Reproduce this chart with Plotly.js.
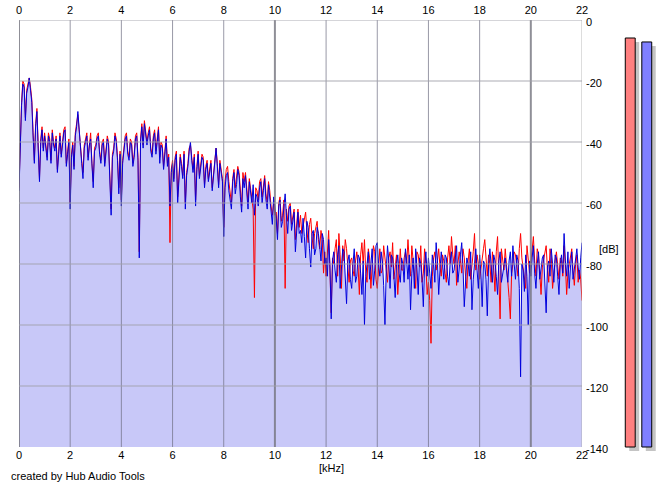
<!DOCTYPE html>
<html>
<head>
<meta charset="utf-8">
<script src="https://cdn.plot.ly/plotly-3.0.1.min.js"></script>
<style>html,body{margin:0;padding:0;background:#fff;}#chart{width:665px;height:487px;}</style>
</head>
<body>
<div id="chart"></div>
<script>
// Spectrum values (dB), one value every 0.05 kHz from 0 to 22 kHz (20 values per kHz row)
const blueDb = [
 -56,-40,-28,-21,-22,-33,-24,-22,-19,-23,-27,-38,-47,-35,-30,-42,-53,-40,-36,-43,
 -38,-42,-46,-38,-40,-47,-37,-41,-43,-39,-50,-44,-38,-45,-41,-37,-36,-48,-44,-40,
 -62,-45,-41,-49,-38,-35,-30,-37,-44,-47,-52,-42,-40,-38,-46,-41,-39,-48,-55,-43,
 -42,-39,-38,-44,-47,-41,-40,-48,-44,-39,-41,-50,-64,-45,-43,-38,-40,-46,-57,-44,
 -61,-47,-42,-39,-38,-44,-46,-40,-41,-48,-45,-39,-38,-46,-78,-40,-35,-42,-34,-38,
 -41,-38,-36,-43,-45,-39,-37,-44,-40,-36,-47,-41,-42,-49,-44,-39,-48,-45,-61,-50,
 -47,-53,-46,-44,-60,-50,-45,-48,-52,-44,-62,-51,-48,-43,-40,-46,-50,-45,-61,-49,
 -44,-52,-49,-45,-46,-55,-49,-47,-53,-49,-47,-56,-51,-46,-42,-48,-55,-47,-50,-53,
 -71,-55,-51,-50,-56,-59,-62,-53,-50,-57,-54,-49,-51,-58,-63,-52,-55,-51,-57,-62,
 -53,-56,-60,-54,-64,-57,-58,-61,-55,-53,-60,-56,-52,-59,-62,-54,-58,-63,-67,-58,
 -62,-65,-72,-61,-59,-68,-66,-60,-57,-64,-70,-62,-61,-69,-66,-63,-76,-67,-63,-70,
 -69,-73,-65,-71,-78,-66,-68,-75,-81,-70,-69,-77,-75,-68,-70,-74,-79,-70,-72,-80,
 -78,-84,-72,-80,-98,-79,-76,-82,-86,-77,-74,-88,-82,-75,-76,-84,-93,-79,-77,-85,
 -88,-80,-75,-86,-84,-77,-78,-83,-90,-79,-100,-84,-79,-76,-85,-81,-75,-87,-82,-74,
 -73,-80,-84,-76,-79,-87,-100,-82,-74,-79,-88,-77,-78,-84,-91,-80,-77,-83,-86,-78,
 -80,-86,-75,-79,-85,-77,-95,-83,-78,-88,-75,-81,-90,-78,-80,-85,-94,-80,-76,-84,
 -78,-83,-88,-77,-80,-86,-73,-79,-90,-82,-76,-80,-85,-77,-78,-84,-87,-79,-76,-83,
 -82,-78,-74,-86,-80,-77,-73,-81,-94,-84,-78,-80,-84,-76,-95,-85,-79,-75,-82,-88,
 -77,-83,-94,-79,-80,-85,-97,-80,-75,-82,-86,-77,-79,-84,-90,-79,-76,-86,-83,-80,
 -78,-82,-86,-79,-76,-84,-74,-80,-85,-77,-79,-88,-117,-80,-82,-89,-77,-84,-100,-79,
 -84,-78,-74,-83,-88,-80,-76,-85,-82,-78,-77,-86,-96,-81,-79,-84,-75,-80,-86,-77,
 -78,-84,-90,-80,-77,-83,-70,-79,-84,-76,-88,-81,-76,-85,-82,-79,-75,-81,-85,-78,
 -73
];
const redDb = [
 -55,-39,-27,-20,-21,-32,-23,-21,-19,-22,-26,-37,-46,-34,-29,-41,-52,-39,-35,-42,
 -37,-41,-45,-37,-39,-46,-36,-40,-42,-38,-49,-43,-37,-44,-40,-36,-35,-47,-43,-39,
 -60,-44,-40,-48,-37,-34,-31,-36,-43,-46,-50,-41,-39,-37,-45,-40,-37,-47,-53,-42,
 -41,-38,-37,-43,-46,-40,-39,-47,-43,-38,-40,-49,-62,-44,-42,-37,-39,-45,-55,-43,
 -59,-46,-41,-38,-37,-43,-45,-39,-40,-47,-44,-38,-37,-45,-76,-39,-34,-41,-33,-37,
 -40,-37,-35,-42,-44,-38,-36,-43,-39,-35,-45,-40,-41,-48,-43,-38,-47,-44,-73,-49,
 -46,-52,-45,-43,-58,-49,-44,-47,-51,-43,-60,-50,-47,-42,-41,-45,-49,-44,-59,-48,
 -43,-51,-48,-44,-45,-54,-48,-46,-52,-48,-46,-55,-50,-45,-42,-47,-54,-46,-49,-52,
 -68,-53,-49,-48,-53,-57,-60,-52,-49,-55,-52,-48,-50,-56,-61,-50,-53,-50,-56,-60,
 -52,-55,-58,-62,-91,-55,-56,-59,-53,-52,-58,-55,-51,-57,-60,-53,-56,-61,-64,-60,
 -64,-63,-70,-60,-58,-66,-64,-59,-88,-62,-66,-61,-60,-67,-64,-62,-72,-66,-62,-68,
 -64,-70,-68,-66,-63,-69,-73,-67,-65,-71,-75,-70,-68,-66,-72,-75,-69,-72,-83,-76,
 -84,-76,-69,-82,-96,-78,-80,-75,-72,-84,-70,-77,-88,-74,-79,-72,-75,-81,-86,-79,
 -78,-82,-84,-79,-76,-81,-90,-77,-73,-80,-72,-83,-86,-75,-78,-88,-82,-74,-76,-85,
 -88,-79,-75,-83,-82,-74,-78,-84,-86,-78,-76,-81,-73,-85,-80,-77,-90,-80,-75,-82,
 -82,-78,-76,-80,-72,-79,-84,-74,-79,-83,-88,-76,-77,-81,-74,-86,-83,-75,-80,-90,
 -86,-92,-106,-84,-78,-76,-82,-79,-75,-81,-84,-77,-79,-83,-86,-78,-74,-80,-71,-77,
 -80,-74,-87,-80,-76,-79,-83,-75,-78,-84,-88,-79,-75,-85,-81,-76,-70,-82,-77,-80,
 -85,-81,-78,-75,-72,-80,-84,-77,-80,-86,-76,-82,-89,-76,-71,-84,-98,-75,-79,-82,
 -75,-80,-84,-91,-98,-83,-80,-76,-77,-81,-84,-75,-70,-78,-82,-86,-88,-74,-78,-83,
 -80,-76,-71,-79,-84,-75,-77,-83,-90,-81,-79,-77,-74,-82,-86,-75,-78,-88,-83,-79,
 -76,-81,-85,-78,-79,-84,-74,-80,-90,-83,-80,-77,-75,-82,-87,-80,-77,-86,-82,-85,
 -92
];
const binStepKHz = 0.05;
const xTickVals = [0,2,4,6,8,10,12,14,16,18,20,22];
const yTickVals = [0,-20,-40,-60,-80,-100,-120,-140];
const levelChannels = ['L','R'];
const levelDb = [-5.9, -7.2];
const levelColors = ['#ff8080','#8080ff'];

const floorDb = -140;
const freq = blueDb.map((_, i) => Math.round(i * binStepKHz * 100) / 100);

// geometry
const W = 665, H = 487, mL = 19, mR = 5, mT = 20, mB = 30;
const pw = W - mL - mR, ph = H - mT - mB;
const plotRightPx = 582, plotBottomPx = 447;
const xDomEnd = (plotRightPx - mL) / pw;
const yDomStart = (H - mB - plotBottomPx) / ph;
const pxPerDb = (plotBottomPx - mT) / 140;
const y2Min = -(ph / pxPerDb);
const barPx0 = 617, barPx1 = 660;
const barRange = [-0.8, 1.8];
const pxPerUnit = (barPx1 - barPx0) / (barRange[1] - barRange[0]);
const shadowPx = 4;

const traces = [
  {x: freq, y: freq.map(() => floorDb), mode: 'lines', line: {width: 0, color: 'rgba(0,0,0,0)'}, hoverinfo: 'skip', showlegend: false, xaxis: 'x', yaxis: 'y'},
  {x: freq, y: blueDb, mode: 'lines', fill: 'tonexty', fillcolor: '#c8c8f8', line: {width: 0, color: 'rgba(0,0,0,0)'}, hoverinfo: 'skip', showlegend: false, xaxis: 'x', yaxis: 'y'},
  {x: freq, y: redDb, mode: 'lines', line: {width: 1, color: '#ff0000'}, showlegend: false, xaxis: 'x', yaxis: 'y'},
  {x: freq, y: blueDb, mode: 'lines', line: {width: 1, color: '#0000dd'}, showlegend: false, xaxis: 'x', yaxis: 'y'},
  {type: 'bar', x: [0,1], y: levelDb.map(v => v - floorDb), base: floorDb - shadowPx / pxPerDb,
   width: 0.6, offset: -0.3 + shadowPx / pxPerUnit, marker: {color: '#c4c4c4', line: {width: 0}},
   hoverinfo: 'skip', showlegend: false, xaxis: 'x3', yaxis: 'y2'},
  {type: 'bar', x: [0,1], y: levelDb.map(v => v - floorDb), base: floorDb, text: levelChannels, textposition: 'none',
   width: 0.6, offset: -0.3, marker: {color: levelColors, line: {width: 1, color: '#000000'}},
   showlegend: false, xaxis: 'x3', yaxis: 'y2'}
];

const shapes = [];
xTickVals.forEach(v => {
  const major = (v % 10 === 0);
  const edge = (v === 22);
  shapes.push({type: 'line', layer: 'above', xref: 'x', yref: 'y', x0: v, x1: v, y0: floorDb, y1: 0,
    line: {color: edge ? 'rgba(170,170,170,0.8)' : (major ? 'rgba(115,115,125,0.8)' : 'rgba(110,110,130,0.7)'), width: major ? 2 : 1}});
});
yTickVals.filter(v => v > floorDb).forEach(v => {
  shapes.push({type: 'line', layer: 'above', xref: 'x', yref: 'y', x0: 0, x1: 22, y0: v, y1: v,
    line: {color: 'rgba(160,160,170,0.6)', width: 1.5}});
});

const tickFont = {family: 'Liberation Sans, Arial, sans-serif', size: 11, color: '#000'};
const layout = {
  width: W, height: H,
  margin: {l: mL, r: mR, t: mT, b: mB, pad: 0},
  paper_bgcolor: '#ffffff', plot_bgcolor: '#ffffff',
  showlegend: false, barmode: 'overlay',
  font: tickFont,
  xaxis: {domain: [0, xDomEnd], range: [0, 22], tickvals: xTickVals, ticktext: xTickVals.map(String),
    showgrid: false, zeroline: false, showline: false, ticks: '', tickfont: tickFont, anchor: 'y'},
  xaxis2: {overlaying: 'x', side: 'top', range: [0, 22], tickvals: xTickVals, ticktext: xTickVals.map(String),
    showgrid: false, zeroline: false, showline: false, ticks: '', tickfont: tickFont, anchor: 'y', ticklabelstandoff: 3},
  yaxis: {domain: [yDomStart, 1], range: [floorDb, 0], side: 'right', tickvals: yTickVals, ticktext: yTickVals.map(String),
    showgrid: false, zeroline: false, showline: false, ticks: '', tickfont: tickFont, anchor: 'x', ticklabelstandoff: 3, ticklabelshift: 2},
  xaxis3: {domain: [(barPx0 - mL) / pw, (barPx1 - mL) / pw], range: barRange, visible: false, anchor: 'y2'},
  yaxis2: {domain: [0, 1], range: [y2Min, 0], visible: false, anchor: 'x3'},
  shapes: shapes,
  annotations: [
    {text: '[kHz]', xref: 'paper', yref: 'paper', x: (331 - mL) / pw, y: (H - mB - 468) / ph, showarrow: false, xanchor: 'center', yanchor: 'middle', font: tickFont},
    {text: '[dB]', xref: 'paper', yref: 'paper', x: (597 - mL) / pw, y: (H - mB - 249) / ph, showarrow: false, xanchor: 'left', yanchor: 'middle', font: tickFont},
    {text: 'created by Hub Audio Tools', xref: 'paper', yref: 'paper', x: (9 - mL) / pw, y: (H - mB - 476) / ph, showarrow: false, xanchor: 'left', yanchor: 'middle', font: tickFont}
  ]
};
// invisible trace so the top axis is drawn
traces.push({x: [0, 22], y: [floorDb, floorDb], xaxis: 'x2', yaxis: 'y', mode: 'lines', line: {width: 0, color: 'rgba(0,0,0,0)'}, hoverinfo: 'skip', showlegend: false});

Plotly.newPlot('chart', traces, layout, {displayModeBar: false, staticPlot: true});
</script>
</body>
</html>
